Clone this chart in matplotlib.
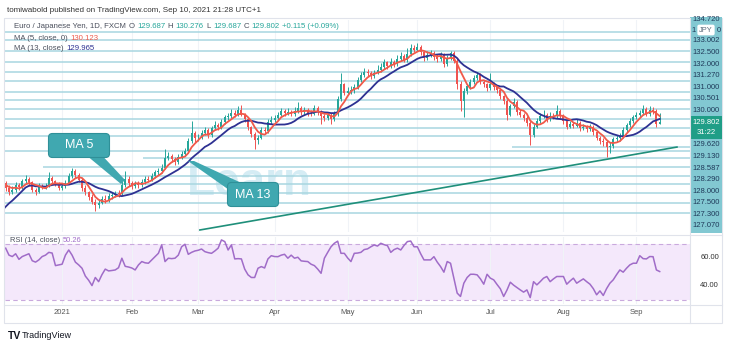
import numpy as np
import pandas as pd
import matplotlib
matplotlib.use("Agg")
import matplotlib.pyplot as plt
from matplotlib.patches import FancyBboxPatch, Polygon, Rectangle
from matplotlib.transforms import blended_transform_factory

plt.rcParams['font.family'] = ['Liberation Sans', 'DejaVu Sans']

# EUR/JPY daily bars (FXCM). The first 16 bars are off-screen warm-up for the averages.
last_date = '2021-09-10'
n_hidden = 16
first_open = 123.60

closes = [
    123.80, 123.55, 123.35, 123.55, 123.60, 124.15, 124.10, 123.95, 124.20, 124.30, 125.30, 125.85, 126.50, 126.40, 126.25, 126.45,
    126.20, 125.95, 126.10, 126.35, 126.25, 126.55, 126.70, 126.50, 126.10, 125.95,
    126.30, 126.25, 126.30, 126.75, 126.55, 126.40, 126.20, 126.30, 126.45, 126.85,
    127.10, 126.90, 126.65, 126.20, 125.95, 125.70, 125.45, 125.25, 125.40, 125.60,
    125.55, 125.75, 125.80, 125.90, 125.85, 126.35, 126.70, 126.45, 126.30, 126.45,
    126.35, 126.50, 126.70, 126.65, 126.85, 127.05, 127.10, 127.30, 127.85, 127.95,
    127.80, 127.60, 127.90, 128.05, 128.20, 128.75, 129.20, 128.90, 128.95, 129.20,
    129.35, 129.10, 129.45, 129.65, 129.50, 129.80, 130.05, 130.10, 130.30, 130.20,
    130.45, 130.20, 129.95, 129.50, 129.15, 128.80, 128.95, 129.35, 129.30, 129.80,
    129.90, 130.00, 130.20, 130.40, 130.30, 130.35, 130.25, 130.40, 130.55, 130.35,
    130.45, 130.30, 130.25, 130.55, 130.35, 130.10, 130.00, 130.20, 129.95, 130.25,
    131.05, 131.85, 131.40, 131.50, 131.55, 131.70, 132.10, 132.35, 132.55, 132.45,
    132.30, 132.50, 132.65, 132.80, 133.05, 132.85, 133.10, 132.95, 133.25, 133.40,
    133.20, 133.50, 133.85, 133.75, 133.90, 133.60, 133.30, 133.45, 133.55, 133.35,
    133.25, 133.45, 132.95, 133.30, 133.55, 133.15, 131.90, 130.95, 131.50, 131.75,
    132.00, 132.20, 132.35, 132.00, 131.85, 131.65, 131.90, 131.70, 131.55, 131.20,
    130.95, 130.20, 130.65, 130.90, 130.35, 130.20, 130.00, 129.75, 129.10, 129.55,
    129.85, 130.10, 130.20, 129.95, 130.15, 130.10, 130.40, 130.15, 129.85, 129.55,
    129.70, 129.60, 129.75, 129.45, 129.55, 129.40, 129.55, 129.25, 128.95, 128.75,
    128.70, 128.45, 128.50, 128.85, 128.90, 129.05, 129.35, 129.62, 129.85, 130.05,
    130.18, 130.30, 130.53, 130.23, 130.47, 130.426, 129.687, 129.802,
]
highs = [
    124.00, 123.90, 123.70, 123.75, 123.80, 124.30, 124.35, 124.25, 124.40, 124.50, 125.45, 126.00, 126.65, 126.75, 126.55, 126.60,
    126.60, 126.35, 126.30, 126.50, 126.45, 126.70, 126.90, 126.80, 126.60, 126.20,
    126.45, 126.40, 126.45, 127.05, 126.85, 126.65, 126.50, 126.45, 126.65, 127.00,
    127.30, 127.25, 127.00, 126.75, 126.35, 126.05, 125.85, 125.60, 125.55, 125.75,
    125.80, 125.90, 126.00, 126.05, 126.10, 126.55, 127.10, 126.85, 126.55, 126.60,
    126.60, 126.70, 126.85, 126.85, 127.00, 127.20, 127.30, 127.50, 128.30, 128.15,
    128.05, 127.90, 128.05, 128.20, 128.40, 128.90, 129.85, 129.30, 129.15, 129.35,
    129.55, 129.45, 129.60, 129.85, 129.75, 129.95, 130.20, 130.30, 130.50, 130.45,
    130.65, 130.70, 130.30, 130.05, 129.60, 129.25, 129.10, 129.50, 129.50, 129.95,
    130.10, 130.20, 130.35, 130.55, 130.50, 130.55, 130.45, 130.60, 130.90, 130.65,
    130.60, 130.55, 130.45, 130.70, 130.65, 130.45, 130.25, 130.35, 130.30, 130.40,
    131.20, 132.45, 131.95, 131.70, 131.75, 131.90, 132.25, 132.55, 132.75, 132.70,
    132.60, 132.65, 132.90, 133.00, 133.25, 133.15, 133.30, 133.20, 133.45, 133.60,
    133.50, 133.85, 134.05, 134.00, 134.12, 134.00, 133.70, 133.65, 133.75, 133.65,
    133.50, 133.60, 133.55, 133.45, 133.70, 133.65, 133.30, 132.05, 131.65, 131.90,
    132.15, 132.35, 132.55, 132.45, 132.10, 131.95, 132.50, 132.00, 131.80, 131.65,
    131.30, 131.05, 130.80, 131.10, 131.00, 130.50, 130.30, 130.10, 129.85, 129.70,
    130.00, 130.30, 130.45, 130.30, 130.35, 130.30, 130.70, 130.50, 130.25, 129.95,
    129.85, 129.80, 129.95, 129.85, 129.70, 129.65, 129.70, 129.65, 129.35, 129.05,
    128.95, 128.80, 128.70, 129.00, 129.10, 129.20, 129.50, 129.75, 130.00, 130.20,
    130.35, 130.45, 130.70, 130.60, 130.65, 130.60, 130.50, 130.276,
]
lows = [
    123.50, 123.40, 123.15, 123.25, 123.30, 123.50, 123.90, 123.75, 123.85, 124.05, 124.20, 125.20, 125.75, 126.20, 126.05, 126.10,
    126.05, 125.80, 125.85, 126.00, 126.10, 126.15, 126.45, 126.35, 125.95, 125.80,
    125.90, 126.15, 126.15, 126.25, 126.45, 126.30, 126.10, 126.10, 126.20, 126.40,
    126.75, 126.75, 126.50, 126.05, 125.80, 125.55, 125.30, 124.95, 125.10, 125.30,
    125.40, 125.45, 125.60, 125.70, 125.70, 125.80, 126.25, 126.30, 126.15, 126.20,
    126.20, 126.25, 126.40, 126.50, 126.55, 126.75, 126.90, 127.00, 127.25, 127.70,
    127.60, 127.45, 127.50, 127.80, 127.95, 128.10, 128.65, 128.70, 128.75, 128.85,
    129.10, 128.95, 129.00, 129.35, 129.35, 129.40, 129.70, 129.90, 130.00, 130.05,
    130.10, 130.10, 129.80, 129.35, 129.00, 128.35, 128.60, 128.85, 129.15, 129.20,
    129.70, 129.80, 129.90, 130.10, 130.15, 130.20, 130.10, 130.15, 130.30, 130.20,
    130.25, 130.15, 130.10, 130.20, 130.20, 129.70, 129.85, 129.90, 129.70, 129.85,
    130.15, 130.95, 131.25, 131.30, 131.35, 131.40, 131.60, 132.00, 132.25, 132.30,
    132.15, 132.20, 132.40, 132.55, 132.70, 132.70, 132.75, 132.80, 132.85, 133.15,
    133.05, 133.10, 133.40, 133.60, 133.65, 133.45, 133.15, 133.20, 133.35, 133.20,
    133.05, 133.15, 132.80, 132.85, 133.20, 133.00, 131.60, 130.40, 130.05, 131.35,
    131.60, 131.90, 132.10, 131.85, 131.70, 131.50, 131.55, 131.55, 131.40, 131.05,
    130.80, 129.90, 130.10, 130.55, 130.20, 130.05, 129.85, 129.60, 128.55, 129.00,
    129.45, 129.75, 130.00, 129.80, 129.85, 129.95, 130.00, 130.00, 129.70, 129.40,
    129.45, 129.45, 129.50, 129.30, 129.35, 129.25, 129.30, 129.10, 128.80, 128.60,
    128.50, 127.90, 128.10, 128.40, 128.70, 128.75, 128.95, 129.25, 129.50, 129.75,
    129.95, 130.05, 130.20, 130.10, 130.15, 130.25, 129.55, 129.687,
]

# RSI(14, close) for the visible bars
rsi_vals = [
    67, 62, 61, 63, 59, 61, 62, 63, 58, 57,
    58.6, 61, 62, 64, 63.5, 54.5, 55, 55.5, 62, 65.7,
    62, 57, 55, 52.6, 47, 44, 40.2, 46, 43, 48,
    52, 50.7, 51, 51.4, 53, 59.8, 54, 53.5, 52.8, 51.4,
    55, 57.4, 56.5, 56.2, 58.6, 61, 63.3, 69.3, 57.4, 59.8,
    59.5, 59.8, 62, 68, 69.8, 62.6, 64, 65, 65.5, 66.4,
    64.5, 63.8, 63.3, 65, 67, 72.9, 71.7, 65.7, 69.3, 59.3,
    59.5, 59.3, 52, 47.9, 46, 46, 52.6, 53.8, 52.8, 59.3,
    61.6, 61, 60.9, 62, 62.6, 59.8, 62, 59.8, 60.5, 57.9,
    57.6, 57.4, 55.5, 54.5, 52, 49, 59.8, 64, 68, 70.5,
    72, 63.3, 63.3, 60, 57.4, 63.3, 63.5, 64, 66, 66.5,
    68, 69.3, 68.5, 70.5, 69.5, 68.8, 64, 66, 67, 65.7,
    69, 71.7, 72.1, 68, 68, 63, 58.6, 58.6, 58.6, 60.9,
    57, 53.8, 49.8, 57.4, 56.2, 45.5, 34.8, 32.4, 41.9, 46,
    48.3, 48.3, 47.9, 45, 41.2, 48.3, 45.5, 44.3, 41, 37.9,
    32.4, 37, 42.6, 40.5, 38.8, 37.1, 35.5, 37.1, 31.6, 43,
    40.7, 43, 45.5, 46.7, 43, 45, 46.7, 46.7, 46.7, 41.2,
    43.5, 45.5, 41.9, 43.5, 45, 43, 41.2, 38, 33.6, 36.4,
    33.1, 38, 41.9, 44.3, 48, 51.4, 49.8, 52.6, 55, 56.2,
    56.2, 61.6, 59.5, 59.3, 61, 60.9, 51.4, 50.26,
]

# horizontal levels drawn on the chart, and the ones that start part way across
levels = [134.72, 134.28, 133.68, 133.08, 132.53, 132.04, 131.44, 131.00, 130.51,
          129.96, 129.47, 129.03, 128.21, 126.85, 126.41, 125.92, 125.37, 124.83]
partial_levels = [(57.4, 127.83), (27.2, 127.34), (168.5, 128.43)]
# rising support line (bar index, price)
trend_line = [(74.5, 123.90), (218.2, 128.43)]

scale_labels = ['133.002', '132.500', '132.000', '131.270', '131.000', '130.501', '130.000',
                '129.620', '129.130', '128.587', '128.290', '128.000', '127.500', '127.300', '127.070']

UP, DOWN = '#26a69a', '#ef5350'
MA5_C, MA13_C, RSI_C = '#f05a4a', '#2e3192', '#a06cc8'
LEVEL_C = '#a8d6e0'
W, H = 740, 349

closes = np.array(closes)
highs = np.array(highs)
lows = np.array(lows)
opens = np.r_[first_open, closes[:-1]]
idx = np.arange(len(closes))
dates = pd.bdate_range(end=last_date, periods=len(closes))

s = pd.Series(closes)
ma5 = s.rolling(5).mean()
ma13 = s.rolling(13).mean()

fig = plt.figure(figsize=(W / 100, H / 100), dpi=100)
fig.patch.set_facecolor('white')


def px_axes(x0, y0, x1, y1, **kw):
    return fig.add_axes([x0 / W, 1 - y1 / H, (x1 - x0) / W, (y1 - y0) / H], **kw)


xmin = n_hidden - 0.2
xmax = xmin + 685 / 3.32

# ---- price pane
ax = px_axes(5, 20, 690, 232)
ax.set_xlim(xmin, xmax)
ax.set_ylim(123.79, 135.37)
ax.axis('off')

months = [(i, d) for i, d in enumerate(dates)
          if d.year == 2021 and (i == 0 or dates[i - 1].month != d.month)]
for i, d in months:
    ax.axvline(i, color='#f0f3f7', lw=0.8, zorder=0)

ax.text(0.266, 0.175, 'Learn', transform=ax.transAxes, fontsize=33, fontweight='bold',
        color='#d5ecf4', va='baseline', ha='left', zorder=0.5)

for p in levels:
    ax.axhline(p, color=LEVEL_C, lw=1.1, zorder=1)
for start, p in partial_levels:
    ax.hlines(p, start, xmax, color=LEVEL_C, lw=1.1, zorder=1)

(tx0, ty0), (tx1, ty1) = trend_line
ax.plot([tx0, tx1], [ty0, ty1], color='#1f8f7a', lw=1.2, zorder=2)

up = closes >= opens
cols = np.where(up, UP, DOWN)
ax.vlines(idx, lows, highs, colors=cols, lw=0.7, zorder=3)
body = np.where(np.abs(closes - opens) < 0.02, 0.02, closes - opens)
ax.bar(idx, body, bottom=opens, width=0.6, color=cols, lw=0, zorder=3)
ax.plot(idx, ma13, color=MA13_C, lw=1.3, zorder=4)
ax.plot(idx, ma5, color=MA5_C, lw=1.3, zorder=4)

# ---- RSI pane
ar = px_axes(5, 237, 690, 304)
ar.set_xlim(xmin, xmax)
ar.set_ylim(27, 75)
ar.axis('off')
ar.axhspan(30, 70, color='#f4e8fb', lw=0, zorder=0)
ar.axhline(70, color='#c9a9dd', lw=0.8, ls=(0, (4, 3)), zorder=1)
ar.axhline(30, color='#c9a9dd', lw=0.8, ls=(0, (4, 3)), zorder=1)
for i, d in months:
    ar.axvline(i, color='#f0f3f7', lw=0.8, zorder=0.5)
ar.plot(idx[n_hidden:], rsi_vals, color=RSI_C, lw=1.1, zorder=3)

yt = blended_transform_factory(ar.transAxes, ar.transData)
for v in (60, 40):
    ar.text(1.015, v, f'{v:.2f}', transform=yt, fontsize=5.5, color='#333', va='center')

xt = blended_transform_factory(ar.transData, fig.transFigure)
for i, d in months:
    lab = '2021' if d.month == 1 else d.strftime('%b')
    ar.text(i, 1 - 312 / H, lab, transform=xt, fontsize=5.5, color='#555', ha='center', va='center')

# ---- overlay in pixel units for scale, legend and callouts
ov = fig.add_axes([0, 0, 1, 1], zorder=10)
ov.set_xlim(0, W)
ov.set_ylim(H, 0)
ov.axis('off')
ov.patch.set_alpha(0)

ov.add_patch(Rectangle((4, 18), 718, 305, fill=False, ec='#e0e3eb', lw=0.8))
ov.plot([4, 722], [235, 235], color='#e0e3eb', lw=0.8)
ov.plot([4, 722], [305, 305], color='#e0e3eb', lw=0.8)
ov.plot([690, 690], [18, 323], color='#e0e3eb', lw=0.8)

# price scale strip
NAVY = '#1f3a5a'
ov.add_patch(Rectangle((690, 17), 32, 216, color='#82c8d2', lw=0))
ov.text(706, 19.5, '134.720', fontsize=5.5, color=NAVY, ha='center', va='center')
ov.text(694, 30, '1', fontsize=5.5, color=NAVY, ha='center', va='center')
ov.text(719, 30, '0', fontsize=5.5, color=NAVY, ha='center', va='center')
ov.text(706, 30, 'JPY', fontsize=5.3, color='#5a6a7a', ha='center', va='center',
        bbox=dict(boxstyle='round,pad=0.25', fc='white', ec='none'))
for k, lab in enumerate(scale_labels):
    y = 41 + k * 11.55 + (2 * 11.55 if k >= 7 else 0)
    ov.text(706, y, lab, fontsize=5.5, color=NAVY, ha='center', va='center')
ov.add_patch(Rectangle((690, 116), 32, 23, color='#1f9e87', lw=0))
ov.text(706, 122, f'{closes[-1]:.3f}', fontsize=5.5, color='white', ha='center', va='center')
ov.text(706, 132.5, '31:22', fontsize=5.5, color='white', ha='center', va='center')

# header and legend rows
ov.text(7, 10, 'tomiwabold published on TradingView.com, Sep 10, 2021 21:28 UTC+1',
        fontsize=5.8, color='#333', va='center')

renderer = fig.canvas.get_renderer()


def run_text(x, y, parts, size=5.6):
    for txt, col in parts:
        t = ov.text(x, y, txt, fontsize=size, color=col, va='center')
        x += t.get_window_extent(renderer=renderer).width + 2.5


chg = closes[-1] - closes[-2]
pct = chg / closes[-2] * 100
G, TXT = '#26a69a', '#4a4f5c'
run_text(14, 27, [('Euro / Japanese Yen, 1D, FXCM', TXT),
                  ('O', TXT), (f'{opens[-1]:.3f}', G), ('H', TXT), (f'{highs[-1]:.3f}', G),
                  ('L', TXT), (f'{lows[-1]:.3f}', G), ('C', TXT), (f'{closes[-1]:.3f}', G),
                  (f'{chg:+.3f} ({pct:+.2f}%)', G)])
run_text(14, 38, [('MA (5, close, 0)', TXT), (f'{ma5.iloc[-1]:.3f}', MA5_C)])
run_text(14, 49, [('MA (13, close)', TXT), (f'{ma13.iloc[-1]:.3f}', MA13_C)])
run_text(10, 241, [('RSI (14, close)', TXT), (f'{rsi_vals[-1]:.2f}', RSI_C)], size=5.4)

# callouts
BOX_C, BOX_E = '#40a8b0', '#2f9098'
ov.add_patch(Polygon([(80, 150), (97, 150), (125, 180), (121, 184)], closed=True, fc=BOX_C, ec='none'))
ov.add_patch(FancyBboxPatch((50, 135), 58, 21, boxstyle='round,pad=1.5,rounding_size=4',
                            fc=BOX_C, ec=BOX_E, lw=0.8))
ov.text(79, 145.5, 'MA 5', fontsize=9, color='white', ha='center', va='center')

ov.add_patch(Polygon([(188, 161), (194, 161), (248, 186), (232, 192)], closed=True, fc=BOX_C, ec='none'))
ov.add_patch(FancyBboxPatch((229, 184), 48, 21, boxstyle='round,pad=1.5,rounding_size=4',
                            fc=BOX_C, ec=BOX_E, lw=0.8))
ov.text(253, 194.5, 'MA 13', fontsize=9, color='white', ha='center', va='center')

# footer
ov.text(8, 336, 'TV', fontsize=7.5, fontweight='bold', color='#131722', va='center')
ov.text(22, 336, 'TradingView', fontsize=6.5, color='#131722', va='center')

fig.savefig('out.png', dpi=100, facecolor='white')
